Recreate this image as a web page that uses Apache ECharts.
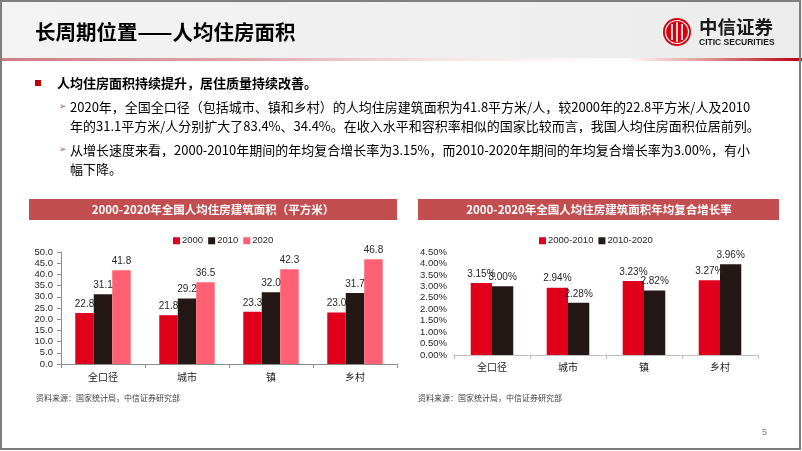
<!DOCTYPE html>
<html><head><meta charset="utf-8">
<script src="https://cdn.jsdelivr.net/npm/echarts@6/dist/echarts.min.js"></script>
<style>html,body{margin:0;padding:0;background:#fff}#c{width:802px;height:451px}</style>
</head><body><div id="c"></div>
<script>
const categories = ['全口径', '城市', '镇', '乡村'];
const area2000 = [22.8, 21.8, 23.3, 23.0];
const area2010 = [31.1, 29.2, 32.0, 31.7];
const area2020 = [41.8, 36.5, 42.3, 46.8];
const growth0010 = [3.15, 2.94, 3.23, 3.27];
const growth1020 = [3.00, 2.28, 2.82, 3.96];
const areaTicks = {min: 0, max: 50, interval: 5};
const growthTicks = {min: 0, max: 4.5, interval: 0.5};

const CJK = '"Noto Sans CJK SC", "Liberation Sans", sans-serif';
const NUM = '"Liberation Sans", "Noto Sans CJK SC", sans-serif';
const RED = '#e0001b', DARK = '#231815', PINK = '#ff6074';

const chart = echarts.init(document.getElementById('c'), null, {renderer: 'canvas'});

function txt(text, x, y, font, fill, align) {
  return {type: 'text', silent: true, style: {text, x, y, font, fill: fill || '#000', align: align || 'left', verticalAlign: 'middle'}};
}

const graphics = [
  {type: 'rect', shape: {x: 0, y: 0, width: 802, height: 58}, style: {fill: new echarts.graphic.LinearGradient(0, 0, 1, 0, [{offset: 0, color: '#f3f3f3'}, {offset: 1, color: '#ececec'}])}, silent: true},
  {type: 'rect', shape: {x: 0, y: 58, width: 802, height: 3}, style: {fill: new echarts.graphic.LinearGradient(0, 0, 1, 0, [
    {offset: 0, color: '#cf7d86'}, {offset: 0.3, color: '#dfa6ab'}, {offset: 0.55, color: '#f4e4e5'}, {offset: 0.78, color: '#ffffff'}, {offset: 0.87, color: '#e4a0a0'}, {offset: 1, color: '#b30010'}])}, silent: true},
  txt('长周期位置——人均住房面积', 35, 32, 'bold 20.5px ' + CJK, '#000'),
  // logo
  {type: 'circle', shape: {cx: 677, cy: 32, r: 14}, style: {fill: '#d7000f'}, silent: true},
  {type: 'circle', shape: {cx: 677, cy: 32, r: 11.5}, style: {fill: 'none', stroke: '#fff', lineWidth: 1.2}, silent: true},
  {type: 'line', shape: {x1: 672, y1: 24, x2: 672, y2: 40}, style: {stroke: '#fff', lineWidth: 1.6}, silent: true},
  {type: 'line', shape: {x1: 677, y1: 22, x2: 677, y2: 42}, style: {stroke: '#fff', lineWidth: 1.6}, silent: true},
  {type: 'line', shape: {x1: 682, y1: 24, x2: 682, y2: 40}, style: {stroke: '#fff', lineWidth: 1.6}, silent: true},
  txt('中信证券', 699, 27, 'bold 18.5px ' + CJK, '#1a1a1a'),
  txt('CITIC SECURITIES', 699, 43, 'bold 8.5px ' + NUM, '#1a1a1a'),
  // bullets
  {type: 'rect', shape: {x: 35, y: 80, width: 6, height: 6}, style: {fill: '#c00000'}, silent: true},
  txt('人均住房面积持续提升，居住质量持续改善。', 57, 83, 'bold 13px ' + CJK, '#000'),
  txt('➢', 59, 107, '9px "DejaVu Sans"', '#8c6a4a'),
  txt('2020年，全国全口径（包括城市、镇和乡村）的人均住房建筑面积为41.8平方米/人，较2000年的22.8平方米/人及2010', 70, 107, '13px ' + CJK, '#000'),
  txt('年的31.1平方米/人分别扩大了83.4%、34.4%。在收入水平和容积率相似的国家比较而言，我国人均住房面积位居前列。', 70, 126, '13px ' + CJK, '#000'),
  txt('➢', 59, 150, '9px "DejaVu Sans"', '#8c6a4a'),
  txt('从增长速度来看，2000-2010年期间的年均复合增长率为3.15%，而2010-2020年期间的年均复合增长率为3.00%，有小', 70, 150, '13px ' + CJK, '#000'),
  txt('幅下降。', 70, 169, '13px ' + CJK, '#000'),
  // banners
  {type: 'rect', shape: {x: 29, y: 199, width: 368, height: 21}, style: {fill: '#c24e4f'}, silent: true},
  txt('2000-2020年全国人均住房建筑面积（平方米）', 213, 210, 'bold 11.5px ' + CJK, '#fff', 'center'),
  {type: 'rect', shape: {x: 418, y: 199, width: 361, height: 21}, style: {fill: '#c24e4f'}, silent: true},
  txt('2000-2020年全国人均住房建筑面积年均复合增长率', 599, 210, 'bold 11.5px ' + CJK, '#fff', 'center'),
  // sources
  txt('资料来源：国家统计局，中信证券研究部', 36, 398, '8px ' + CJK, '#404040'),
  txt('资料来源：国家统计局，中信证券研究部', 418, 398, '8px ' + CJK, '#404040'),
  txt('5', 762, 433, '9px ' + NUM, '#7f7f7f'),
  // slide border
  {type: 'rect', shape: {x: 1, y: 1, width: 799, height: 448}, style: {fill: 'none', stroke: '#7f7f7f', lineWidth: 2}, silent: true, z: 100}
];

const labelStyle = {show: true, position: 'top', distance: 4, color: '#262626', fontSize: 10, fontFamily: NUM};

chart.setOption({
  animation: false,
  backgroundColor: '#fff',
  graphic: graphics,
  legend: [
    {left: 168, top: 231, itemWidth: 7, itemHeight: 7, itemGap: 5, icon: 'rect', selectedMode: false,
     data: ['2000', '2010', '2020'], textStyle: {fontSize: 9.5, fontFamily: NUM, color: '#262626', padding: [0, 0, 0, -3]}},
    {left: 534, top: 231, itemWidth: 7, itemHeight: 7, itemGap: 5, icon: 'rect', selectedMode: false,
     data: ['2000-2010', '2010-2020'], textStyle: {fontSize: 9.5, fontFamily: NUM, color: '#262626', padding: [0, 0, 0, -3]}}
  ],
  grid: [
    {left: 61, top: 252, width: 336, height: 112, containLabel: false},
    {left: 454, top: 252, width: 304, height: 103, containLabel: false}
  ],
  xAxis: [
    {type: 'category', gridIndex: 0, data: categories,
     axisLine: {lineStyle: {color: '#8c8c8c', width: 1}}, axisTick: {show: true, length: 4, lineStyle: {color: '#8c8c8c'}},
     axisLabel: {margin: 8, fontSize: 10, fontFamily: CJK, color: '#1a1a1a'}},
    {type: 'category', gridIndex: 1, data: categories,
     axisLine: {lineStyle: {color: '#bfbfbf', width: 1}}, axisTick: {show: true, length: 4, lineStyle: {color: '#bfbfbf'}},
     axisLabel: {margin: 7, fontSize: 10, fontFamily: CJK, color: '#1a1a1a'}}
  ],
  yAxis: [
    {type: 'value', gridIndex: 0, min: areaTicks.min, max: areaTicks.max, interval: areaTicks.interval,
     axisLine: {show: true, lineStyle: {color: '#8c8c8c'}}, axisTick: {show: true, length: 4, lineStyle: {color: '#8c8c8c'}},
     splitLine: {show: false},
     axisLabel: {margin: 8, fontSize: 9.5, fontFamily: NUM, color: '#262626', formatter: v => v.toFixed(1)}},
    {type: 'value', gridIndex: 1, min: growthTicks.min, max: growthTicks.max, interval: growthTicks.interval,
     axisLine: {show: false}, axisTick: {show: false}, splitLine: {show: false},
     axisLabel: {margin: 7, fontSize: 9.5, fontFamily: NUM, color: '#262626', formatter: v => v.toFixed(2) + '%'}}
  ],
  series: [
    {name: '2000', type: 'bar', xAxisIndex: 0, yAxisIndex: 0, data: area2000, itemStyle: {color: RED},
     barGap: '0%', barCategoryGap: '34%', label: Object.assign({}, labelStyle, {formatter: p => p.value.toFixed(1)})},
    {name: '2010', type: 'bar', xAxisIndex: 0, yAxisIndex: 0, data: area2010, itemStyle: {color: DARK},
     barGap: '0%', barCategoryGap: '34%', label: Object.assign({}, labelStyle, {formatter: p => p.value.toFixed(1)})},
    {name: '2020', type: 'bar', xAxisIndex: 0, yAxisIndex: 0, data: area2020, itemStyle: {color: PINK},
     barGap: '0%', barCategoryGap: '34%', label: Object.assign({}, labelStyle, {formatter: p => p.value.toFixed(1)})},
    {name: '2000-2010', type: 'bar', xAxisIndex: 1, yAxisIndex: 1, data: growth0010, itemStyle: {color: RED},
     barGap: '0%', barCategoryGap: '44%', label: Object.assign({}, labelStyle, {formatter: p => p.value.toFixed(2) + '%'})},
    {name: '2010-2020', type: 'bar', xAxisIndex: 1, yAxisIndex: 1, data: growth1020, itemStyle: {color: DARK},
     barGap: '0%', barCategoryGap: '44%', label: Object.assign({}, labelStyle, {formatter: p => p.value.toFixed(2) + '%'})}
  ]
});
</script>
</body></html>
